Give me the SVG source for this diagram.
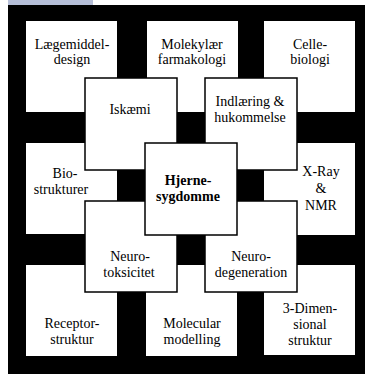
<svg xmlns="http://www.w3.org/2000/svg" width="365" height="374" viewBox="0 0 365 374">
<style>
.bg{fill:#000}
.outer{fill:#fff}
.inner{fill:#fff;stroke:#000;stroke-width:1.5}
text{font-family:"Liberation Serif","Times New Roman",serif;font-size:14px;fill:#000;text-anchor:middle}
.bold{font-weight:bold}
</style>
<rect x="0" y="0" width="365" height="374" fill="#fff"/>
<rect x="8" y="0" width="85" height="5" fill="#b6bfd8"/>
<rect class="bg" x="8" y="5" width="357" height="369"/>
<g id="connectors"/>
<g id="laegemiddel"><rect class="outer" x="26" y="21" width="91" height="91"/><text x="72" y="49">Lægemiddel-</text><text x="72" y="64">design</text></g>
<g id="molekylaer"><rect class="outer" x="147" y="21" width="91" height="91"/><text x="192" y="49">Molekylær</text><text x="192" y="64">farmakologi</text></g>
<g id="cellebiologi"><rect class="outer" x="264" y="21" width="91" height="91"/><text x="310" y="49">Celle-</text><text x="310" y="64">biologi</text></g>
<g id="biostrukturer"><rect class="outer" x="26" y="143" width="91" height="91"/><text x="65" y="178">Bio-</text><text x="61" y="194">strukturer</text></g>
<g id="xray"><rect class="outer" x="264" y="143" width="91" height="92"/><text x="321" y="176">X-Ray</text><text x="321" y="193">&amp;</text><text x="321" y="210">NMR</text></g>
<g id="receptor"><rect class="outer" x="26" y="265" width="91" height="91"/><text x="72" y="328">Receptor-</text><text x="72" y="344">struktur</text></g>
<g id="molecular"><rect class="outer" x="146" y="265" width="91" height="91"/><text x="192" y="328">Molecular</text><text x="192" y="344">modelling</text></g>
<g id="dimensional"><rect class="outer" x="264" y="265" width="91" height="90"/><text x="310" y="313">3-Dimen-</text><text x="310" y="329">sional</text><text x="310" y="345">struktur</text></g>
<g id="iskaemi"><rect class="inner" x="85" y="78" width="92" height="92"/><text x="130" y="114">Iskæmi</text></g>
<g id="indlaering"><rect class="inner" x="205" y="78" width="92" height="92"/><text x="250" y="106">Indlæring &amp;</text><text x="250" y="122">hukommelse</text></g>
<g id="neurotoksicitet"><rect class="inner" x="85" y="201" width="92" height="91"/><text x="130" y="261">Neuro-</text><text x="129" y="277">toksicitet</text></g>
<g id="neurodegeneration"><rect class="inner" x="205" y="201" width="92" height="91"/><text x="251" y="261">Neuro-</text><text x="251" y="277">degeneration</text></g>
<g id="hjernesygdomme"><rect class="inner" x="145" y="143" width="92" height="92"/><text class="bold" x="188" y="185">Hjerne-</text><text class="bold" x="188" y="201">sygdomme</text></g>
</svg>
